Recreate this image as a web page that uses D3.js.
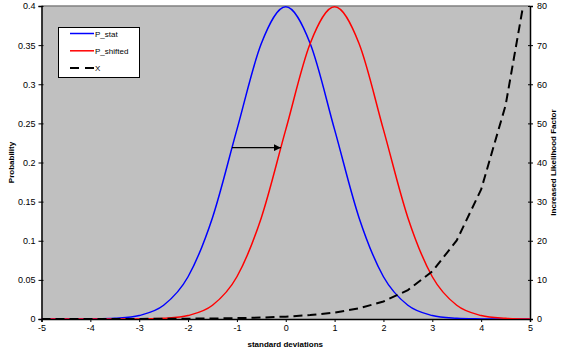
<!DOCTYPE html>
<html><head><meta charset="utf-8">
<script src="https://cdn.jsdelivr.net/npm/d3@7"></script>
<style>body{margin:0;background:#fff}svg{display:block;font-family:"Liberation Sans",Arial,sans-serif}</style>
</head><body><svg id="c" width="563" height="353"></svg>
<script>
const xs = [-5,-4.5,-4,-3.5,-3,-2.5,-2,-1.5,-1,-0.5,0,0.5,1,1.5,2,2.5,3,3.5,4,4.5,5];
const pStat = [0.0000015,0.000016,0.000134,0.000873,0.004432,0.017528,0.053991,0.129518,0.241971,0.352065,0.398942,0.352065,0.241971,0.129518,0.053991,0.017528,0.004432,0.000873,0.000134,0.000016,0.0000015];
const pShifted = [0.000000006,0.000000108,0.0000015,0.000016,0.000134,0.000873,0.004432,0.017528,0.053991,0.129518,0.241971,0.352065,0.398942,0.352065,0.241971,0.129518,0.053991,0.017528,0.004432,0.000873,0.000134];
const factorX = [0.0041,0.0067,0.0111,0.0183,0.0302,0.0498,0.0821,0.1353,0.2231,0.3679,0.6065,1,1.6487,2.7183,4.4817,7.3891,12.1825,20.0855,33.1155,54.5982,90.0171];
const xTicks = [-5,-4,-3,-2,-1,0,1,2,3,4,5];
const yLeftTicks = [0,0.05,0.1,0.15,0.2,0.25,0.3,0.35,0.4];
const yRightTicks = [0,10,20,30,40,50,60,70,80];
const seriesNames = ["P_stat","P_shifted","X"];
const arrowFrom = [-1.1, 0.219], arrowTo = [-0.1, 0.219];

const L=41.5, R=530, T=6, B=319;
const svg = d3.select("#c");
const x = d3.scaleLinear().domain([-5,5]).range([L,R]);
const yL = d3.scaleLinear().domain([0,0.4]).range([B,T]);
const yR = d3.scaleLinear().domain([0,80]).range([B,T]);

svg.append("defs").append("clipPath").attr("id","clip").append("rect")
  .attr("x",L).attr("y",T).attr("width",R-L).attr("height",B-T);
svg.select("defs").append("marker").attr("id","ah").attr("viewBox","0 0 10 10")
  .attr("refX",10).attr("refY",5).attr("markerWidth",7).attr("markerHeight",7)
  .attr("markerUnits","userSpaceOnUse").attr("orient","auto")
  .append("path").attr("d","M0,0L10,5L0,10z").attr("fill","#000");

svg.append("rect").attr("x",L).attr("y",T).attr("width",R-L).attr("height",B-T).attr("fill","#C0C0C0");
svg.append("line").attr("x1",L).attr("x2",R).attr("y1",T).attr("y2",T).attr("stroke","#808080").attr("stroke-width",1.5);

// axes
const fs = 9;
const gx = svg.append("g").attr("transform",`translate(0,${B})`)
  .call(d3.axisBottom(x).tickValues(xTicks).tickSize(3).tickPadding(3).tickFormat(d=>String(d)));
const gl = svg.append("g").attr("transform",`translate(${L},0)`)
  .call(d3.axisLeft(yL).tickValues(yLeftTicks).tickSize(3).tickPadding(3).tickFormat(d=>String(+d.toFixed(2))));
const gr = svg.append("g").attr("transform",`translate(${R},0)`)
  .call(d3.axisRight(yR).tickValues(yRightTicks).tickSize(3).tickPadding(4).tickFormat(d=>String(d)));
[gx,gl,gr].forEach(g=>{
  g.select(".domain").attr("stroke","#000").attr("stroke-width",1.5);
  g.selectAll(".tick line").attr("stroke","#000").attr("stroke-width",1);
  g.selectAll("text").attr("font-size",fs).attr("fill","#000").attr("font-family","Liberation Sans, Arial, sans-serif");
});
gl.selectAll(".tick line").attr("x1",2);
gr.selectAll(".tick line").attr("x1",-2);

// series
const lineS = (arr,ys)=>d3.line().x((d,i)=>x(xs[i])).y((d,i)=>ys(arr[i])).curve(d3.curveCardinal.tension(0));
const plot = svg.append("g").attr("clip-path","url(#clip)");
plot.append("path").datum(pStat).attr("d",lineS(pStat,yL)).attr("fill","none").attr("stroke","#0000FF").attr("stroke-width",1.5);
plot.append("path").datum(pShifted).attr("d",lineS(pShifted,yL)).attr("fill","none").attr("stroke","#FF0000").attr("stroke-width",1.5);
plot.append("path").datum(factorX)
  .attr("d",d3.line().x((d,i)=>x(xs[i])).y(d=>yR(d))(factorX))
  .attr("fill","none").attr("stroke","#000").attr("stroke-width",2).attr("stroke-dasharray","9,5");

// arrow
svg.append("line").attr("x1",x(arrowFrom[0])).attr("y1",yL(arrowFrom[1]))
  .attr("x2",x(arrowTo[0])).attr("y2",yL(arrowTo[1]))
  .attr("stroke","#000").attr("stroke-width",1.3).attr("marker-end","url(#ah)");

// titles
svg.append("text").attr("x",(L+R)/2-0.5).attr("y",347).attr("text-anchor","middle")
  .attr("font-size",8).attr("font-weight","bold").text("standard deviations");
svg.append("text").attr("transform",`translate(14,${(T+B)/2}) rotate(-90)`).attr("text-anchor","middle")
  .attr("font-size",8).attr("font-weight","bold").text("Probability");
svg.append("text").attr("transform",`translate(556,${(T+B)/2}) rotate(-90)`).attr("text-anchor","middle")
  .attr("font-size",8).attr("font-weight","bold").text("Increased Likelihood Factor");

// legend
const lg = svg.append("g");
lg.append("rect").attr("x",58.5).attr("y",27.5).attr("width",81).attr("height",50).attr("fill","#fff").attr("stroke","#000").attr("stroke-width",1);
const cols = ["#0000FF","#FF0000","#000"];
seriesNames.forEach((n,i)=>{
  const yy = 33.5 + i*17.3;
  const ln = lg.append("line").attr("x1",70).attr("x2",94).attr("y1",yy).attr("y2",yy)
    .attr("stroke",cols[i]).attr("stroke-width",i==2?2:1.5);
  if(i==2) ln.attr("stroke-dasharray","9,6");
  lg.append("text").attr("x",95).attr("y",yy+3).attr("font-size",8).text(n);
});
</script></body></html>
